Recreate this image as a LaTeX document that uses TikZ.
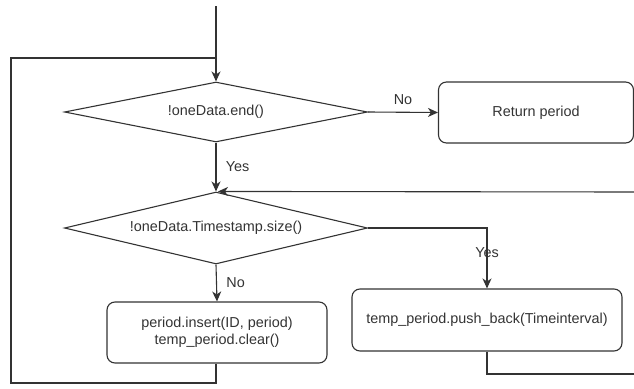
\documentclass[tikz,border=0pt]{standalone}
\usepackage{fontspec}
\setmainfont{Liberation Sans}
\usetikzlibrary{shapes.geometric,arrows.meta}
\begin{document}
\begin{tikzpicture}[x=1pt,y=-1pt,
  every node/.style={font=\fontsize{14.4}{17.5}\selectfont, text=black!80},
  flow/.style={draw=black!80, line width=1.1pt},
  arr/.style={flow, -{Stealth[length=10pt,width=9pt,inset=3pt]}},
  decision/.style={flow, diamond, aspect=5, inner sep=0pt,
    minimum width=303pt, minimum height=60pt},
  proc/.style={flow, rectangle, rounded corners=8pt, align=center}]
\useasboundingbox (0,0) rectangle (634,388);

% entry point and the loop-back junction
\coordinate (start) at (216,6);
\coordinate (join) at (216,58);

% decisions
\node[decision] (d1) at (216,112) {!oneData.end()};
\node[decision, minimum height=72pt] (d2) at (216,228) {!oneData.Timestamp.size()};

% process boxes
\node[proc, minimum width=195pt, minimum height=61pt] (ret) at (536,112.5) {Return period};
\node[proc, minimum width=220pt, minimum height=61pt] (ins) at (217,332.5)
  {period.insert(ID, period)\\temp\_period.clear()};
\node[proc, minimum width=270pt, minimum height=62pt] (push) at (487,320)
  {temp\_period.push\_back(Timeinterval)};

% free ends at the right edge
\coordinate (rin) at (634,192);
\coordinate (rout) at (634,374);
\coordinate (pushturn) at (487,374);
\coordinate (d2turn) at (487,228);

% connectors
\draw[arr] (start) -- (d1.north);
\draw[arr] (d1.east) -- node[above, yshift=4pt] {No} (ret.west);
\draw[arr] (d1.south) -- node[right, xshift=6pt] {Yes} (d2.north);
\draw[arr] (rin) -- ([xshift=2pt]d2.north);
\draw[arr] (d2.south) -- node[right, xshift=6pt] {No} (ins.north);
\draw[arr] (d2.east) -- (d2turn) -- node[pos=0.4] {Yes} (push.north);
\draw[flow] (push.south) -- (pushturn) -- (rout);
\draw[flow] (ins.south -| join) -- (216,383) -- (11,383) -- (11,58) -- (join);
\end{tikzpicture}
\end{document}
